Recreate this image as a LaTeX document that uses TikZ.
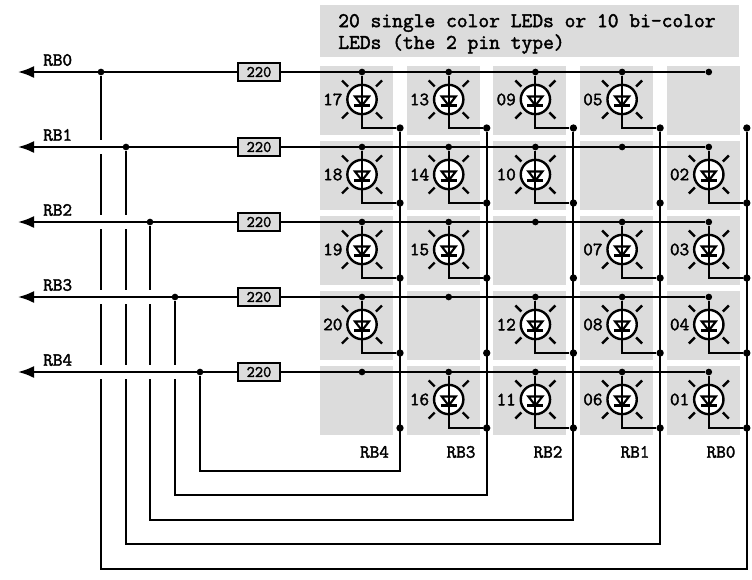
\documentclass[tikz,border=0pt]{standalone}
\usepackage{xcolor}
\usepackage{fontspec}
\usetikzlibrary{arrows.meta}
\newfontfamily\labfont{Latin Modern Mono}[FakeBold=2]
\definecolor{cellgray}{HTML}{DCDCDC}
\tikzset{
  wire/.style={line width=1.6pt},
  gapline/.style={white,line width=10pt},
  cell/.style={fill=cellgray,inner sep=0pt,minimum width=54.75pt,minimum height=51.75pt},
  dot/.style={circle,fill=black,inner sep=0pt,minimum size=5pt},
  ledring/.style={circle,draw,fill=white,line width=1.8pt,inner sep=0pt,minimum size=22pt},
  ray/.style={line width=1.8pt},
  res/.style={draw,fill=cellgray,line width=1.6pt,inner sep=0pt,minimum width=32pt,minimum height=13.5pt,font=\labfont\fontsize{12}{12}\selectfont},
  lab/.style={inner sep=0pt,font=\labfont\fontsize{14}{14}\selectfont},
  notelab/.style={inner sep=0pt,font=\labfont\fontsize{15.7}{15.7}\selectfont}
}
\begin{document}
\begin{tikzpicture}[x=0.75pt,y=-0.75pt]
  \useasboundingbox (0,0) rectangle (752,579);

  \node[fill=cellgray,inner sep=0pt,minimum width=314.25pt,minimum height=39pt] (note) at (529.5,31) {};
  \node[notelab,anchor=west] (line1) at (338,23) {20 single color LEDs or 10 bi-color};
  \node[notelab,anchor=west] (line2) at (338,44) {LEDs (the 2 pin type)};

  %cells and the dots on them
  \foreach \c in {0,...,4}{
    \foreach \r in {0,...,4}{
      \node[cell] (cell\c\r) at (356.5+86.7*\c,100.5+75*\r) {};
      \node[dot] (bus\c\r) at (362+86.7*\c,72+75*\r) {};
      \node[dot,minimum size=5.5pt] (ret\c\r) at (400+86.7*\c,128+75*\r) {};
    }
  }

  %leds
  \foreach \c/\r/\num in {0/0/17,1/0/13,2/0/09,3/0/05,
                          0/1/18,1/1/14,2/1/10,4/1/02,
                          0/2/19,1/2/15,3/2/07,4/2/03,
                          0/3/20,2/3/12,3/3/08,4/3/04,
                          1/4/16,2/4/11,3/4/06,4/4/01}{
    \node[ledring] (led\num) at (362+86.7*\c,99.5+75*\r) {};
    \node[lab,anchor=east] (num\num) at ([xshift=-14.5pt]led\num.center) {\num};
    \draw[ray] ([shift={(-20,-19)}]led\num.center) -- ([shift={(-14,-13)}]led\num.center);
    \draw[ray] ([shift={(20,-19)}]led\num.center) -- ([shift={(14,-13)}]led\num.center);
    \draw[ray] ([shift={(-20,19)}]led\num.center) -- ([shift={(-14,13)}]led\num.center);
    \draw[ray] ([shift={(20,19)}]led\num.center) -- ([shift={(14,13)}]led\num.center);
    \draw[wire] (bus\c\r) |- (ret\c\r);
    \draw[wire,line join=miter] ([shift={(-7,-3)}]led\num.center) -- ([shift={(7,-3)}]led\num.center) -- ([shift={(0,6)}]led\num.center) -- cycle;
    \draw[wire] ([shift={(-8,6)}]led\num.center) -- ([shift={(8,6)}]led\num.center);
  }

  %return lines to the taps
  \foreach \c/\r/\tapx/\lowy in {0/4/200/471,1/3/175/495,2/2/150/520,3/1/126/544,4/0/101/569}{
    \node[dot] (tap\r) at (\tapx,72+75*\r) {};
    \coordinate (low\r) at (\tapx,\lowy);
    \draw[wire] (ret\c0) |- (low\r) -- (tap\r);
  }

  %breaks where the rb lines cross
  \draw[gapline] (92,147) -- (116,147);
  \draw[gapline] (92,222) -- (140,222);
  \draw[gapline] (92,297) -- (165,297);
  \draw[gapline] (92,372) -- (190,372);

  %rb lines
  \foreach \r in {0,...,4}{
    \node[res] (res\r) at (259,72+75*\r) {220};
    \coordinate (pin\r) at (18,72+75*\r);
    \node[lab,anchor=west] (rbl\r) at (43,60+75*\r) {RB\r};
    \draw[wire,-{Latex[length=12pt,width=9pt]}] (res\r) -- (pin\r);
    \draw[wire] (res\r) -- (bus4\r);
  }

  \node[lab] (rbb4) at (374.5,452) {RB4};
  \node[lab] (rbb3) at (461,452) {RB3};
  \node[lab] (rbb2) at (548,452) {RB2};
  \node[lab] (rbb1) at (635,452) {RB1};
  \node[lab] (rbb0) at (721,452) {RB0};
\end{tikzpicture}
\end{document}
